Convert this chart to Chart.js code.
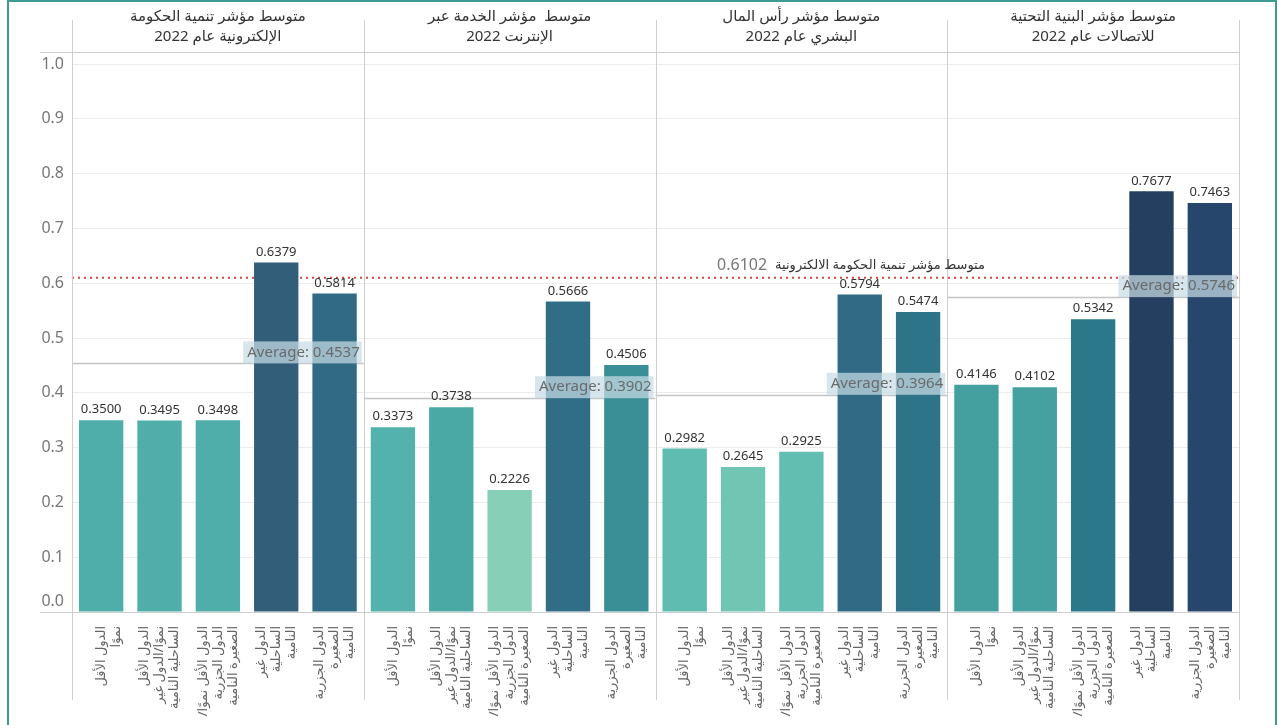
<!DOCTYPE html>
<html lang="ar">
<head>
<meta charset="utf-8">
<script src="https://cdn.jsdelivr.net/npm/chart.js@4.4.1/dist/chart.umd.min.js"></script>
<style>
  html, body { margin: 0; padding: 0; background: #fff; overflow: hidden; }
  #frame { position: absolute; left: 7px; top: 0; width: 1270px; height: 760px; border: 2px solid #3d9c92; box-sizing: border-box; }
  #wrap { position: absolute; left: 0; top: 0; width: 1279px; height: 725px; }
  canvas { direction: rtl; }
</style>
</head>
<body>
<div id="frame"></div>
<div id="wrap"><canvas id="chart" width="1279" height="725"></canvas></div>
<script>
// panels, left to right as drawn
const panelTitles = [
  ['متوسط مؤشر تنمية الحكومة', 'الإلكترونية عام 2022'],
  ['متوسط  مؤشر الخدمة عبر', 'الإنترنت 2022'],
  ['متوسط مؤشر رأس المال', 'البشري عام 2022'],
  ['متوسط مؤشر البنية التحتية', 'للاتصالات عام 2022'],
];

// country groups (same five in every panel)
const groupLabels = [
  ['الدول الأقل', 'نموًا'],
  ['الدول الأقل', 'نموًا/الدول غير', 'الساحلية النامية'],
  ['الدول الأقل نموًا/', 'الدول الجزرية', 'الصغيرة النامية'],
  ['الدول غير', 'الساحلية', 'النامية'],
  ['الدول الجزرية', 'الصغيرة', 'النامية'],
];

const egovIndex = [0.3500, 0.3495, 0.3498, 0.6379, 0.5814];
const onlineService = [0.3373, 0.3738, 0.2226, 0.5666, 0.4506];
const humanCapital = [0.2982, 0.2645, 0.2925, 0.5794, 0.5474];
const telecomInfra = [0.4146, 0.4102, 0.5342, 0.7677, 0.7463];

const panelAverages = [0.4537, 0.3902, 0.3964, 0.5746];
const egdiOverall = 0.6102;
const egdiLabel = 'متوسط مؤشر تنمية الحكومة الالكترونية';

const yTicks = [0, 0.1, 0.2, 0.3, 0.4, 0.5, 0.6, 0.7, 0.8, 0.9, 1.0];

const FONT = "'Noto Sans', 'DejaVu Sans', sans-serif";
const X_LINE_H = 15;

// colour ramp by value (teal -> navy)
const rampStops = [
  [0.22, [137, 208, 183]],
  [0.30, [94, 188, 176]],
  [0.35, [79, 174, 169]],
  [0.41, [69, 161, 160]],
  [0.45, [58, 143, 150]],
  [0.535, [43, 120, 138]],
  [0.58, [49, 106, 132]],
  [0.64, [51, 94, 122]],
  [0.75, [38, 69, 106]],
  [0.77, [36, 62, 94]],
];
function rampColor(v) {
  if (v <= rampStops[0][0]) return `rgb(${rampStops[0][1].join(',')})`;
  for (let i = 1; i < rampStops.length; i++) {
    const [v1, c1] = rampStops[i];
    const [v0, c0] = rampStops[i - 1];
    if (v <= v1) {
      const t = (v - v0) / (v1 - v0);
      const c = c0.map((a, k) => Math.round(a + (c1[k] - a) * t));
      return `rgb(${c.join(',')})`;
    }
  }
  return `rgb(${rampStops[rampStops.length - 1][1].join(',')})`;
}

const values = [...egovIndex, ...onlineService, ...humanCapital, ...telecomInfra];
// two-line labels get a leading blank so their first line sits on the bar
const labels = [];
panelTitles.forEach(() => groupLabels.forEach(l => labels.push(l.length < 3 ? ['', ...l] : l)));

function panelBounds(chart, k) {
  const xs = chart.scales.x;
  const half = (xs.getPixelForValue(1) - xs.getPixelForValue(0)) / 2;
  return {
    left: xs.getPixelForValue(k * 5) - half,
    right: xs.getPixelForValue(k * 5 + 4) + half,
  };
}

const decorPlugin = {
  id: 'decor',
  beforeDraw(chart) {
    // lift the "0.0" label off the bottom frame line, like the original
    const items = chart.scales.y.getLabelItems();
    if (items.length && items[0].options && items[0].options.translation) {
      items[0].options.translation[1] -= 11;
    }
  },
  beforeDatasetsDraw(chart) {
    const { ctx, chartArea, scales: { y } } = chart;
    ctx.save();
    // average reference lines
    ctx.strokeStyle = '#c4c4c4';
    ctx.lineWidth = 1.5;
    panelAverages.forEach((avg, k) => {
      const b = panelBounds(chart, k);
      const py = Math.round(y.getPixelForValue(avg)) + 0.5;
      ctx.beginPath();
      ctx.moveTo(b.left, py);
      ctx.lineTo(b.right, py);
      ctx.stroke();
    });
    // overall EGDI dotted line
    const ry = y.getPixelForValue(egdiOverall);
    ctx.strokeStyle = '#d9443f';
    ctx.lineWidth = 2;
    ctx.setLineDash([2, 4]);
    ctx.beginPath();
    ctx.moveTo(chartArea.left, ry);
    ctx.lineTo(chartArea.right, ry);
    ctx.stroke();
    ctx.restore();
  },
  afterDraw(chart) {
    const { ctx, chartArea, scales: { y } } = chart;
    ctx.save();

    // panel frame lines
    ctx.strokeStyle = '#cfcfcf';
    ctx.lineWidth = 1;
    ctx.beginPath();
    ctx.moveTo(40, chartArea.top + 0.5);
    ctx.lineTo(chartArea.right, chartArea.top + 0.5);
    ctx.moveTo(40, chartArea.bottom + 0.5);
    ctx.lineTo(chartArea.right, chartArea.bottom + 0.5);
    for (let k = 0; k <= 4; k++) {
      const x = Math.round(k < 4 ? panelBounds(chart, k).left : panelBounds(chart, 3).right) + 0.5;
      ctx.moveTo(x, 20);
      ctx.lineTo(x, 700);
    }
    ctx.stroke();

    // panel titles
    ctx.direction = 'rtl';
    ctx.fillStyle = '#333';
    ctx.font = `15px ${FONT}`;
    ctx.textAlign = 'center';
    ctx.textBaseline = 'middle';
    panelTitles.forEach((lines, k) => {
      const b = panelBounds(chart, k);
      const cx = (b.left + b.right) / 2;
      lines.forEach((t, i) => ctx.fillText(t, cx, 17 + i * 20));
    });

    // value labels above bars
    ctx.direction = 'ltr';
    ctx.font = `13px ${FONT}`;
    ctx.fillStyle = '#333';
    ctx.textBaseline = 'bottom';
    const meta = chart.getDatasetMeta(0);
    meta.data.forEach((bar, i) => {
      ctx.fillText(values[i].toFixed(4), bar.x, bar.y - 4);
    });

    // average labels
    ctx.font = `15px ${FONT}`;
    ctx.textBaseline = 'middle';
    ctx.textAlign = 'right';
    panelAverages.forEach((avg, k) => {
      const b = panelBounds(chart, k);
      const py = y.getPixelForValue(avg);
      const txt = 'Average: ' + avg.toFixed(4);
      const w = ctx.measureText(txt).width;
      ctx.fillStyle = 'rgba(200, 220, 228, 0.72)';
      ctx.fillRect(b.right - w - 8, py - 22, w + 6, 22);
      ctx.fillStyle = '#6a6a6a';
      ctx.fillText(txt, b.right - 4, py - 11);
    });

    // overall EGDI label
    const ry = y.getPixelForValue(egdiOverall);
    ctx.direction = 'rtl';
    ctx.textAlign = 'right';
    ctx.font = `13px ${FONT}`;
    ctx.fillStyle = '#333';
    ctx.fillText(egdiLabel, 985, ry - 12);
    const lw = ctx.measureText(egdiLabel).width;
    ctx.direction = 'ltr';
    ctx.font = `16px ${FONT}`;
    ctx.fillStyle = '#777';
    ctx.fillText(egdiOverall.toFixed(4), 985 - lw - 8, ry - 12);

    ctx.restore();
  },
};

new Chart(document.getElementById('chart'), {
  type: 'bar',
  data: {
    labels: labels,
    datasets: [{
      data: values,
      backgroundColor: values.map(rampColor),
      barPercentage: 0.76,
      categoryPercentage: 1,
    }],
  },
  options: {
    responsive: false,
    animation: false,
    layout: { padding: { top: 52, right: 40, left: 0, bottom: 0 } },
    plugins: { legend: { display: false }, tooltip: { enabled: false } },
    scales: {
      x: {
        grid: { display: false },
        border: { display: false },
        ticks: {
          autoSkip: false,
          minRotation: 90,
          maxRotation: 90,
          padding: 6,
          labelOffset: -X_LINE_H,
          color: '#666',
          font: { family: FONT, size: 13, lineHeight: X_LINE_H + 'px' },
        },
        afterFit(scale) { scale.height = 113; },
      },
      y: {
        min: 0,
        max: 1.022,
        afterBuildTicks(scale) { scale.ticks = yTicks.map(v => ({ value: v })); },
        grid: { color: '#ececec', drawTicks: false },
        border: { display: false },
        ticks: {
          padding: 8,
          color: '#777',
          font: { family: FONT, size: 16 },
          callback: v => Number(v).toFixed(1),
        },
        afterFit(scale) { scale.width = 72; },
      },
    },
  },
  plugins: [decorPlugin],
});
</script>
</body>
</html>
